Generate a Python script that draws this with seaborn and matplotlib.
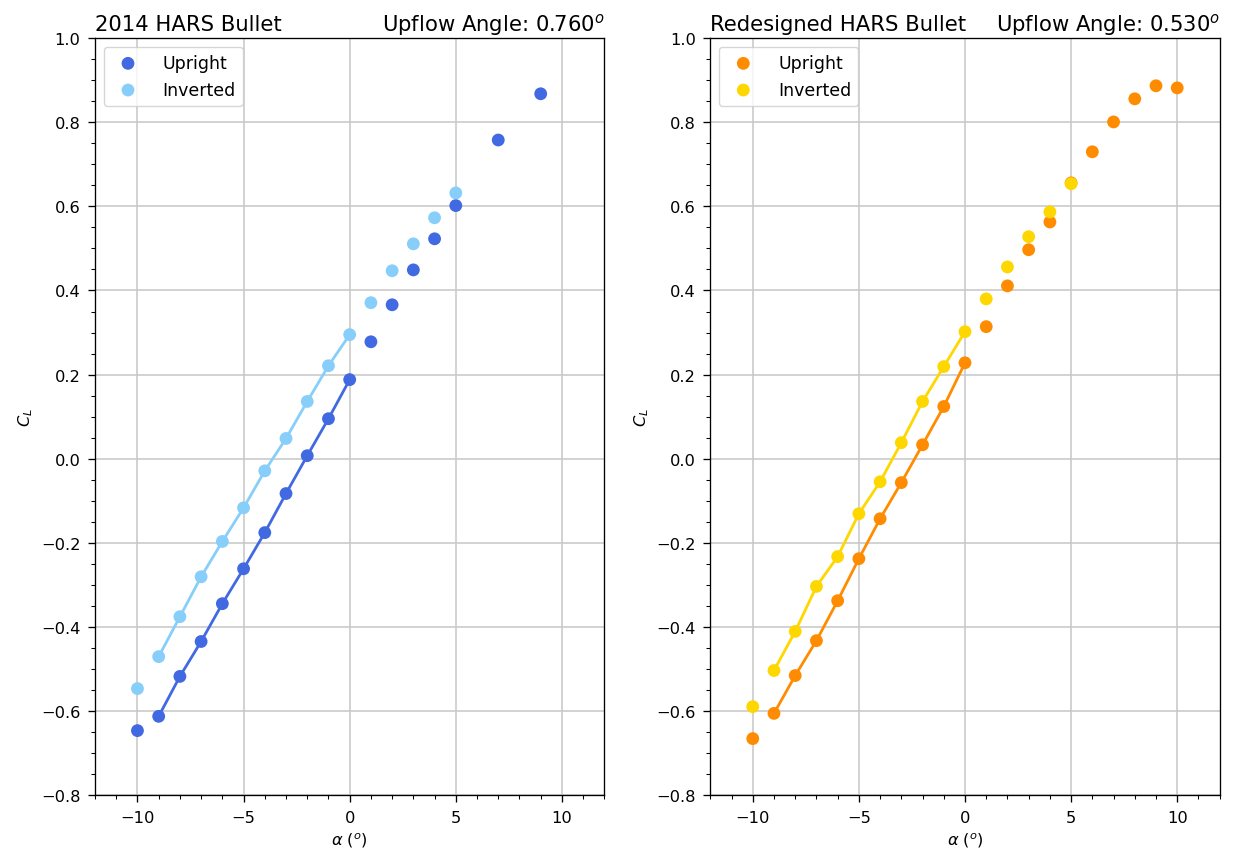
import numpy as np
import pandas as pd
import matplotlib
matplotlib.use("Agg")
import matplotlib.pyplot as plt
import seaborn as sns
from matplotlib.ticker import MultipleLocator

# --- data ---
alpha_up_2014 = [-10, -9, -8, -7, -6, -5, -4, -3, -2, -1, 0, 1, 2, 3, 4, 5, 7, 9]
cl_up_2014 = [-0.647, -0.613, -0.518, -0.435, -0.345, -0.262, -0.176, -0.083, 0.007, 0.095,
              0.188, 0.278, 0.366, 0.449, 0.523, 0.602, 0.758, 0.868]
alpha_inv_2014 = [-10, -9, -8, -7, -6, -5, -4, -3, -2, -1, 0, 1, 2, 3, 4, 5]
cl_inv_2014 = [-0.547, -0.471, -0.376, -0.281, -0.197, -0.117, -0.029, 0.048, 0.136, 0.221,
               0.295, 0.371, 0.447, 0.511, 0.573, 0.632]

alpha_up_new = [-10, -9, -8, -7, -6, -5, -4, -3, -2, -1, 0, 1, 2, 3, 4, 5, 6, 7, 8, 9, 10]
cl_up_new = [-0.666, -0.606, -0.516, -0.433, -0.338, -0.238, -0.143, -0.057, 0.033, 0.124,
             0.228, 0.314, 0.411, 0.497, 0.563, 0.656, 0.730, 0.801, 0.856, 0.887, 0.882]
alpha_inv_new = [-10, -9, -8, -7, -6, -5, -4, -3, -2, -1, 0, 1, 2, 3, 4, 5]
cl_inv_new = [-0.590, -0.504, -0.411, -0.304, -0.233, -0.131, -0.055, 0.038, 0.136, 0.219,
              0.302, 0.380, 0.456, 0.528, 0.587, 0.654]

fit_range = (-9, 0)

panels = [
    dict(title_left="2014 HARS Bullet", title_right="Upflow Angle: 0.760$^o$",
         up=(alpha_up_2014, cl_up_2014), inv=(alpha_inv_2014, cl_inv_2014),
         colors=("royalblue", "lightskyblue")),
    dict(title_left="Redesigned HARS Bullet", title_right="Upflow Angle: 0.530$^o$",
         up=(alpha_up_new, cl_up_new), inv=(alpha_inv_new, cl_inv_new),
         colors=("darkorange", "gold")),
]

fig, axes = plt.subplots(1, 2, figsize=(12.6, 8.54), dpi=100)
fig.subplots_adjust(left=0.0754, right=0.968, top=0.954, bottom=0.068, wspace=0.208)

for ax, p in zip(axes, panels):
    for (a, c), col, lab in [(p["up"], p["colors"][0], "Upright"),
                             (p["inv"], p["colors"][1], "Inverted")]:
        df = pd.DataFrame({"alpha": a, "cl": c})
        seg = df[(df.alpha >= fit_range[0]) & (df.alpha <= fit_range[1])]
        sns.lineplot(data=seg, x="alpha", y="cl", ax=ax, color=col, lw=2,
                     zorder=2, legend=False)
        sns.scatterplot(data=df, x="alpha", y="cl", ax=ax, color=col, s=85,
                        edgecolor="none", label=lab, zorder=3)
    ax.set_xlim(-12, 12)
    ax.set_ylim(-0.8, 1.0)
    ax.xaxis.set_minor_locator(MultipleLocator(1))
    ax.yaxis.set_minor_locator(MultipleLocator(0.05))
    ax.tick_params(which="major", labelsize=11.7, length=5, width=0.95, pad=5.5)
    ax.tick_params(which="minor", length=3, width=0.75)
    for s in ax.spines.values():
        s.set_linewidth(0.95)
    ax.grid(True, which="major", color="#c8c8c8", lw=1.15)
    ax.set_axisbelow(True)
    ax.set_xlabel(r"$\alpha$ ($^o$)", fontsize=11.7)
    ax.set_ylabel(r"$C_L$", fontsize=11.7)
    ax.set_title(p["title_left"], loc="left", fontsize=15.2)
    ax.set_title(p["title_right"], loc="right", fontsize=15.2)
    ax.legend(loc="upper left", fontsize=12.5, handletextpad=1.0)

fig.savefig("out.png", dpi=100)
